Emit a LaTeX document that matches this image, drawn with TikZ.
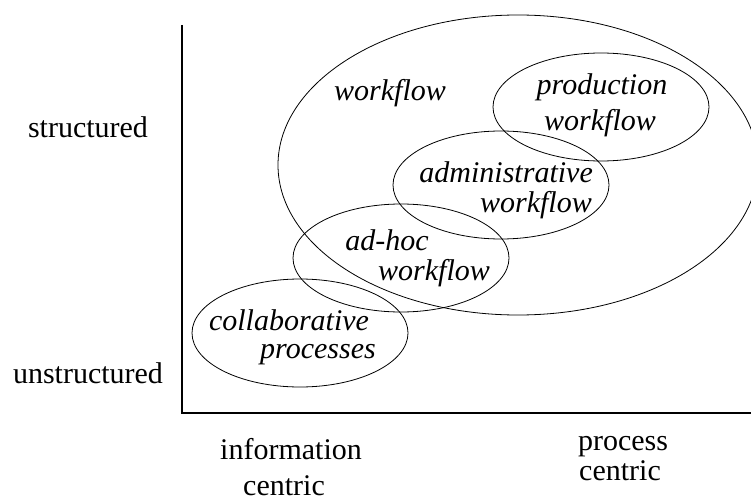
\documentclass[tikz,border=0pt]{standalone}
\usepackage{fontspec}
\setmainfont{Liberation Serif}
\begin{document}
\begin{tikzpicture}[x=1pt,y=-1pt,
  lab/.style={anchor=base,inner sep=0pt,font=\fontsize{30}{36}\selectfont},
  wf/.style={lab,font=\fontsize{30}{36}\selectfont\itshape}]
\useasboundingbox (0,0) rectangle (751,500);
% axes
\draw [line width=2pt] (182,25)--(182,413)--(751,413);
% the sets
\draw [line width=0.8pt] (518,165) ellipse [x radius=240,y radius=150];
\draw [line width=0.8pt] (601,107) ellipse [x radius=108,y radius=54];
\draw [line width=0.8pt] (501,185) ellipse [x radius=108,y radius=54];
\draw [line width=0.8pt] (401,258) ellipse [x radius=108,y radius=54];
\draw [line width=0.8pt] (300,333) ellipse [x radius=108,y radius=54];
% labels in the sets
\node [wf] (wflow) at (390,100) {workflow};
\node [wf] (prod) at (602,95) {production};
\node [wf] (prodwf) at (600,130) {workflow};
\node [wf,anchor=base east] (admin) at (593,182) {administrative};
\node [wf,anchor=base east] (adminwf) at (592,212) {workflow};
\node [wf] (adhoc) at (387,250) {ad-hoc};
\node [wf] (adhocwf) at (434,280) {workflow};
\node [wf] (collab) at (289,330) {collaborative};
\node [wf] (procs) at (318,358) {processes};
% axis labels
\node [lab] (struct) at (88,137) {structured};
\node [lab] (unstruct) at (88,383) {unstructured};
\node [lab] (info) at (291,459) {information};
\node [lab] (infoc) at (284,495) {centric};
\node [lab] (proc) at (623,450) {process};
\node [lab] (procc) at (620,480) {centric};
\end{tikzpicture}
\end{document}
